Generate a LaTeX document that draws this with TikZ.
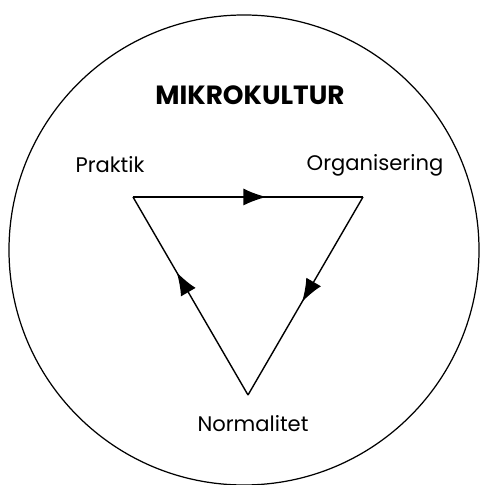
\documentclass[tikz,border=0pt]{standalone}
\usepackage{fontspec}
\setmainfont{Poppins}
\usetikzlibrary{arrows.meta, decorations.markings}

\begin{document}
\begin{tikzpicture}[
    culture/.style={draw, line width=0.7pt},
    edge/.style={line width=0.8pt, line join=miter},
    midarrow/.style={postaction={decorate, decoration={markings,
        mark=at position #1 with {\arrow{Latex[length=0.46cm, width=0.34cm]}}}}},
    title/.style={font=\fontsize{15}{18}\selectfont\bfseries},
    label/.style={font=\fontsize{12}{14}\selectfont}
]
    \useasboundingbox (0, 0) rectangle (9.6, 9.7);

    \draw[culture] (4.88, 4.70) circle (4.70);
    \node[title] (mk) at (5.0, 7.80) {MIKROKULTUR};

    \coordinate (p) at (2.66, 5.76);
    \coordinate (o) at (7.26, 5.76);
    \coordinate (n) at (4.96, 1.80);

    \node[label] (lp) at (2.2, 6.40) {Praktik};
    \node[label] (lo) at (7.5, 6.40) {Organisering};
    \node[label] (ln) at (5.06, 1.22) {Normalitet};

    \draw[edge, midarrow=0.58] (p) -- (o);
    \draw[edge, midarrow=0.53] (o) -- (n);
    \draw[edge, midarrow=0.62] (n) -- (p);
\end{tikzpicture}
\end{document}
